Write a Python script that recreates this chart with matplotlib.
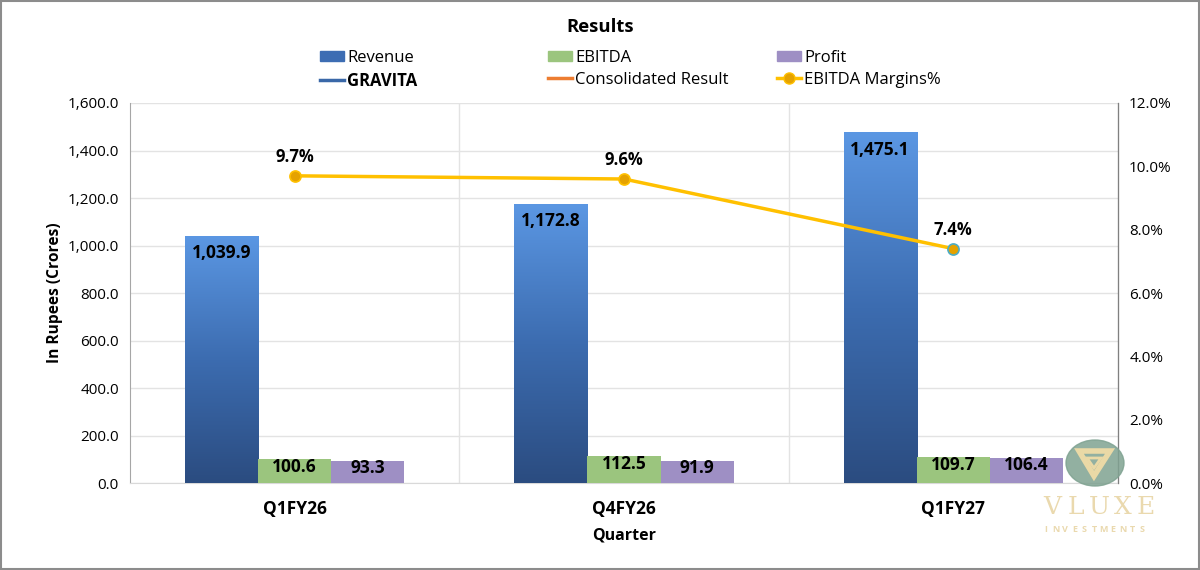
import numpy as np
import matplotlib
matplotlib.use("Agg")
import matplotlib.pyplot as plt
from matplotlib.colors import LinearSegmentedColormap
from matplotlib.lines import Line2D
from matplotlib.patches import Patch, Ellipse, Polygon, Rectangle
from matplotlib.ticker import FuncFormatter

plt.rcParams['font.family'] = ['Open Sans', 'DejaVu Sans']

# data
quarters = ['Q1FY26', 'Q4FY26', 'Q1FY27']
revenue = [1039.9, 1172.8, 1475.1]
ebitda = [100.6, 112.5, 109.7]
profit = [93.3, 91.9, 106.4]
margins = [9.7, 9.6, 7.4]

# colours
rev_light = '#5B97E3'
rev_dark = '#2B4C80'
ebitda_color = '#9BC57E'
profit_color = '#9E8FC4'
line_color = '#FFC000'
marker_color = '#E5A200'

fig = plt.figure(figsize=(12, 5.7), dpi=100)
ax = fig.add_axes([0.1083, 0.1526, 0.8234, 0.6667])
ax2 = ax.twinx()

x = np.arange(len(quarters))
w = 0.222

# revenue bars with vertical gradient
cmap = LinearSegmentedColormap.from_list('rev', [rev_dark, '#3C6CB0', rev_light])
grad = np.linspace(0, 1, 256).reshape(-1, 1)
rev_bars = ax.bar(x - w, revenue, w, color='none', edgecolor='none', zorder=3)
for b, v in zip(rev_bars, revenue):
    x0 = b.get_x()
    ax.imshow(grad, extent=[x0, x0 + w, 0, v], origin='lower', cmap=cmap,
              aspect='auto', zorder=3, interpolation='bicubic')
ax.bar(x, ebitda, w, color=ebitda_color, zorder=3)
ax.bar(x + w, profit, w, color=profit_color, zorder=3)

ax.set_xlim(-0.5, 2.5)
ax.set_ylim(0, 1600)
ax.set_yticks(np.arange(0, 1601, 200))
ax.yaxis.set_major_formatter(FuncFormatter(lambda v, p: f'{v:,.1f}'))
ax.set_xticks(x)
ax.set_xticklabels(quarters, fontweight='bold', fontsize=12.5)
ax.tick_params(axis='x', length=0, pad=12)
ax.tick_params(axis='y', length=0, labelsize=11, pad=8)
ax.set_xticks([0.5, 1.5], minor=True)
ax.tick_params(axis='x', which='minor', length=0)
ax.grid(axis='y', color='#E3E3E3', lw=1, zorder=0)
ax.grid(axis='x', which='minor', color='#E3E3E3', lw=1, zorder=0)
ax.set_axisbelow(True)

ax.spines['top'].set_visible(False)
ax2.spines['top'].set_visible(False)
ax.spines['bottom'].set_color('#D9D9D9')
ax.spines['left'].set_color('#A6A6A6')
ax2.spines['right'].set_color('#808080')
ax2.spines['left'].set_visible(False)
ax2.spines['bottom'].set_visible(False)

ax.set_ylabel('In Rupees (Crores)', fontweight='bold', fontsize=11.2, labelpad=3)
ax.set_xlabel('Quarter', fontweight='bold', fontsize=11.5, labelpad=7)

# bar labels
for xi, v in zip(x - w, revenue):
    ax.annotate(f'{v:,.1f}', (xi, v), xytext=(0, -12.2), textcoords='offset points',
                ha='center', va='center', fontweight='bold', fontsize=12.5, zorder=5)
for xi, v in zip(x, ebitda):
    ax.annotate(f'{v:,.1f}', (xi, v), xytext=(0, -5.8), textcoords='offset points',
                ha='center', va='center', fontweight='bold', fontsize=12.5, zorder=5)
for xi, v in zip(x + w, profit):
    ax.annotate(f'{v:,.1f}', (xi, v), xytext=(0, -5), textcoords='offset points',
                ha='center', va='center', fontweight='bold', fontsize=12.5, zorder=5)

# margin line
m = np.array(margins) / 100
ax2.plot(x, m, color=line_color, lw=2.5, zorder=4)
edges = [line_color, line_color, '#4BACC6']
for xi, mi, ec in zip(x, m, edges):
    ax2.plot(xi, mi, 'o', ms=8, mfc=marker_color, mec=ec, mew=1.2, zorder=5)
    ax2.annotate(f'{mi * 100:.1f}%', (xi, mi), xytext=(0, 13.7), textcoords='offset points',
                 ha='center', va='center', fontweight='bold', fontsize=12)
ax2.set_ylim(0, 0.12)
ax2.set_yticks(np.arange(0, 0.121, 0.02))
ax2.yaxis.set_major_formatter(FuncFormatter(lambda v, p: f'{v * 100:.1f}%'))
ax2.tick_params(axis='y', length=0, labelsize=11, pad=8)

# title and legend
fig.text(0.5, 1 - 32 / 570, 'Results', ha='center', va='baseline', fontweight='bold',
         fontsize=13.3)

cols = [
    [Patch(color='#3D6DB3'), Line2D([], [], color='#3A68A8', lw=2.5)],
    [Patch(color=ebitda_color), Line2D([], [], color='#ED7D31', lw=2.5)],
    [Patch(color=profit_color), Line2D([], [], color=line_color, lw=2.5, marker='o',
                                       ms=8, mfc=marker_color, mec=line_color)],
]
col_labels = [['Revenue', 'GRAVITA'], ['EBITDA', 'Consolidated Result'],
              ['Profit', 'EBITDA Margins%']]
col_x = [320 / 1200, 548 / 1200, 777 / 1200]
for hs, ls, cx in zip(cols, col_labels, col_x):
    leg = fig.legend(hs, ls, loc='upper left', bbox_to_anchor=(cx, 1 - 50 / 570),
                     frameon=False, fontsize=12, handlelength=1.44, handleheight=0.6,
                     handletextpad=0.18, labelspacing=0.35, borderaxespad=0, borderpad=0)
    if ls[0] == 'Revenue':
        leg.get_texts()[1].set_fontweight('bold')

# watermark
wax = fig.add_axes([0.86, 0.0, 0.14, 0.25])
wax.set_xlim(0, 168)
wax.set_ylim(0, 142.5)
wax.axis('off')
gold = '#EAD9AE'
wax.add_patch(Ellipse((63, 107), 58, 46, color='#7FA291', alpha=0.85))
wax.add_patch(Polygon([[47, 119], [78, 119], [62, 94]], closed=True, fill=False,
                      edgecolor='#EAD9A6', lw=4, joinstyle='miter'))
wax.add_patch(Polygon([[55, 112], [69, 112], [62, 102]], closed=True, fill=False,
                      edgecolor='#EAD9A6', lw=2))
for i, ch in enumerate('VLUXE'):
    wax.text(20 + i * 23.5, 63, ch, ha='center', va='center', fontsize=18, color=gold,
             family='DejaVu Serif')
for i, ch in enumerate('INVESTMENTS'):
    wax.text(14 + i * 9.6, 41, ch, ha='center', va='center', fontsize=6.5, color=gold,
             fontweight='bold')

# outer frame
fig.patches.append(Rectangle((0.001, 0.002), 0.998, 0.996, transform=fig.transFigure,
                             fill=False, edgecolor='#8C8C8C', lw=1.5))

fig.savefig('out.png', dpi=100, facecolor='white')
